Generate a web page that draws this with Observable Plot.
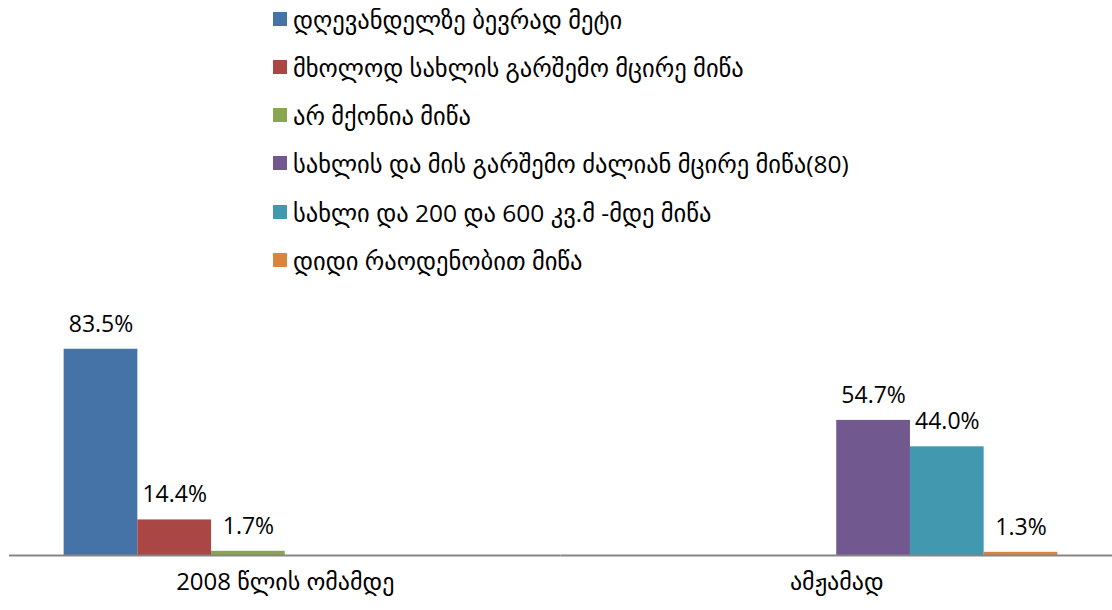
<!DOCTYPE html>
<html>
<head>
<meta charset="utf-8">
<script src="https://cdn.jsdelivr.net/npm/d3@7"></script>
<script src="https://cdn.jsdelivr.net/npm/@observablehq/plot@0.6"></script>
<style>
  html, body { margin: 0; padding: 0; background: #fff; }
  body { width: 1112px; height: 610px; overflow: hidden; font-family: "Open Sans", "DejaVu Sans", sans-serif; }
  #legend { position: relative; height: 300px; }
  .item { position: absolute; left: 273px; display: flex; align-items: center; height: 30px; }
  .sw { width: 14px; height: 14px; margin-right: 6px; flex: none; }
  .lab { font-size: 24.5px; color: #000; white-space: nowrap; }
  #chart svg { display: block; }
</style>
</head>
<body>
<div id="legend"></div>
<div id="chart"></div>
<script>
const categories = ["2008 წლის ომამდე", "ამჟამად"];
const seriesNames = [
  "დღევანდელზე ბევრად მეტი",
  "მხოლოდ სახლის გარშემო მცირე მიწა",
  "არ მქონია მიწა",
  "სახლის და მის გარშემო ძალიან მცირე მიწა(80)",
  "სახლი და 200 და 600 კვ.მ -მდე მიწა",
  "დიდი რაოდენობით მიწა"
];
const seriesColors = ["#4572A7", "#AA4643", "#89A54E", "#71588F", "#4198AF", "#DB843D"];
const barCategory = [categories[0], categories[0], categories[0], categories[1], categories[1], categories[1]];
const barValues = [83.5, 14.4, 1.7, 54.7, 44.0, 1.3];

const data = barValues.map((v, i) => ({cat: barCategory[i], series: seriesNames[i], value: v}));

// Legend
const legend = document.getElementById("legend");
const rowTops = [4, 52, 100, 148, 197, 245];
seriesNames.forEach((name, i) => {
  const it = document.createElement("div");
  it.className = "item";
  it.style.top = rowTops[i] + "px";
  const sw = document.createElement("div");
  sw.className = "sw";
  sw.style.background = seriesColors[i];
  const lab = document.createElement("span");
  lab.className = "lab";
  lab.textContent = name;
  it.appendChild(sw);
  it.appendChild(lab);
  legend.appendChild(it);
});

const chart = Plot.plot({
  width: 1112,
  height: 310,
  marginTop: 8,
  marginBottom: 55,
  marginLeft: 9,
  marginRight: 0,
  style: {fontFamily: "\"Open Sans\", \"DejaVu Sans\", sans-serif", background: "#fff"},
  fx: {domain: categories, padding: 0, round: false, label: null},
  x: {domain: seriesNames, paddingInner: 0, paddingOuter: 0.7415, round: false, axis: null},
  y: {domain: [0, 100], axis: null},
  color: {domain: seriesNames, range: seriesColors},
  marks: [
    Plot.barY(data, {fx: "cat", x: "series", y: "value", fill: "series"}),
    Plot.ruleY([0], {stroke: "#868686", strokeWidth: 2}),
    Plot.text(data, {
      fx: "cat", x: "series", y: "value",
      text: d => d.value.toFixed(1) + "%",
      dy: -25, fontSize: 23, fill: "#000", textAnchor: "middle"
    }),
    Plot.axisFx({anchor: "bottom", tickSize: 0, tickPadding: 17, fontSize: 24, label: null, color: "#000"})
  ]
});
document.getElementById("chart").appendChild(chart);
</script>
</body>
</html>
